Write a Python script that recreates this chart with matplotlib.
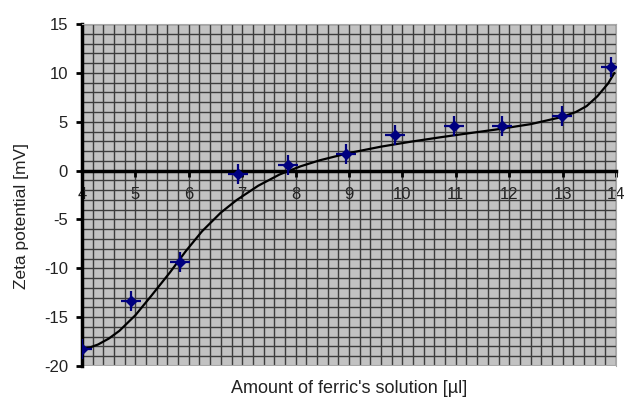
import matplotlib.pyplot as plt
from matplotlib.ticker import MultipleLocator

plt.rcParams['font.family'] = ['Liberation Sans', 'DejaVu Sans']
plt.rcParams['axes.unicode_minus'] = False

# measured points
amount = [4.0, 4.92, 5.83, 6.93, 7.86, 8.94, 9.87, 10.96, 11.87, 12.99, 13.9]
zeta = [-18.3, -13.3, -9.4, -0.3, 0.6, 1.7, 3.6, 4.6, 4.6, 5.6, 10.6]

# trend line
trend_x = [4.0, 4.15, 4.3, 4.5, 4.7, 5.0, 5.3, 5.65, 5.95, 6.25, 6.6, 6.9, 7.3, 7.7,
           8.1, 8.45, 9.0, 9.6, 10.15, 10.7, 11.15, 11.75, 12.4, 13.0, 13.25, 13.45,
           13.65, 13.85, 13.97]
trend_y = [-18.25, -18.1, -17.8, -17.2, -16.4, -14.8, -12.8, -10.4, -8.2, -6.2, -4.3,
           -3.0, -1.55, -0.4, 0.45, 1.05, 1.8, 2.45, 2.95, 3.4, 3.75, 4.2, 4.75, 5.5,
           6.0, 6.6, 7.6, 8.9, 10.0]

x_ticks = [4, 5, 6, 7, 8, 9, 10, 11, 12, 13, 14]
y_ticks = [-20, -15, -10, -5, 0, 5, 10, 15]

fig = plt.figure(figsize=(6.25, 3.99), dpi=100)
ax = fig.add_axes([0.1312, 0.0827, 0.8544, 0.8571])
ax.set_facecolor('#c2c2c2')

ax.set_xlim(4, 14)
ax.set_ylim(-20, 15)

ax.plot(trend_x, trend_y, color='black', lw=1.6, zorder=4,
        solid_capstyle='round', solid_joinstyle='round')

# star-like markers
ax.plot(amount, zeta, ls='none', marker='+', ms=15, mew=1.6, color='#000080', zorder=5)
ax.plot(amount, zeta, ls='none', marker='D', ms=5.5, color='#000080', zorder=6)

ax.xaxis.set_minor_locator(MultipleLocator(0.2))
ax.yaxis.set_minor_locator(MultipleLocator(1))
ax.set_xticks(x_ticks)
ax.set_yticks(y_ticks)
ax.grid(True, which='both', color='#3c3c3c', lw=1.0)
ax.set_axisbelow(True)

ax.spines['bottom'].set_position(('data', 0))
ax.spines['bottom'].set_linewidth(2.5)
ax.spines['left'].set_linewidth(2.5)
ax.spines['top'].set_color('#a8a8a8')
ax.spines['right'].set_color('#a8a8a8')
ax.spines['bottom'].set_zorder(3)
ax.axhline(-20, color='#a8a8a8', lw=1.5)

ax.tick_params(axis='both', which='major', direction='out', length=4, width=2,
               labelsize=12, color='black', labelcolor='#222222')
ax.tick_params(axis='both', which='minor', length=0)
ax.tick_params(axis='x', pad=8)
ax.tick_params(axis='y', pad=6)

ax.set_xlabel("Amount of ferric's solution [µl]", fontsize=13, color='#222222')
ax.xaxis.set_label_coords(0.5, -0.04)
ax.set_ylabel('Zeta potential [mV]', fontsize=12.5, color='#222222')
ax.yaxis.set_label_coords(-0.10, 0.44)

fig.savefig('out.png', dpi=100)
